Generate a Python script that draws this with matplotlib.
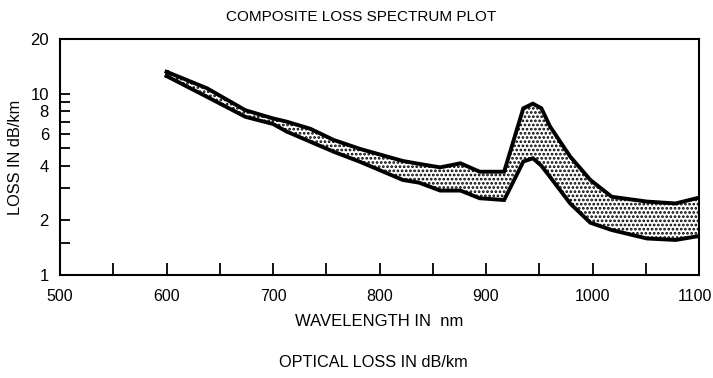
import matplotlib

matplotlib.use("Agg")
import matplotlib.pyplot as plt
from matplotlib.ticker import FixedLocator, NullFormatter
from matplotlib.transforms import ScaledTranslation


# =========================
# Data
# =========================
WAVELENGTH_NM = [600, 638, 674, 700, 713, 735, 757, 782, 822, 837, 857, 876,
                 894, 917, 935, 944, 952, 960, 979, 998, 1018, 1051, 1078, 1100]
LOSS_UPPER = [13.2, 10.7, 8.1, 7.3, 7.0, 6.4, 5.55, 4.95, 4.25, 4.1, 3.92, 4.13,
              3.71, 3.71, 8.3, 8.8, 8.3, 6.6, 4.5, 3.34, 2.7, 2.54, 2.48, 2.67]
LOSS_LOWER = [12.5, 9.6, 7.45, 6.8, 6.17, 5.43, 4.78, 4.2, 3.34, 3.23, 2.92, 2.92,
              2.65, 2.59, 4.22, 4.4, 4.0, 3.48, 2.48, 1.94, 1.77, 1.59, 1.56, 1.64]

X_TICKS = [500, 600, 700, 800, 900, 1000, 1100]
X_MINOR = [550, 650, 750, 850, 950, 1050]
Y_TICKS = [1, 2, 4, 6, 8, 10, 20]
Y_MINOR = [1.5, 3, 5, 7, 9]

TITLE = "COMPOSITE LOSS SPECTRUM PLOT"
X_LABEL = "WAVELENGTH IN  nm"
Y_LABEL = "LOSS IN dB/km"
FOOTER = "OPTICAL LOSS IN dB/km"

plt.rcParams["font.family"] = ["Liberation Sans", "DejaVu Sans"]
plt.rcParams["hatch.linewidth"] = 1.3
plt.rcParams["hatch.color"] = "black"


def main() -> None:
    fig = plt.figure(figsize=(7.13, 3.78), dpi=100)
    ax = fig.add_axes([0.0842, 0.2725, 0.8962, 0.6243])

    ax.fill_between(WAVELENGTH_NM, LOSS_LOWER, LOSS_UPPER,
                    facecolor="white", edgecolor="black", linewidth=0,
                    hatch="....")
    ax.plot(WAVELENGTH_NM, LOSS_UPPER, color="black", lw=2.8, solid_joinstyle="miter")
    ax.plot(WAVELENGTH_NM, LOSS_LOWER, color="black", lw=2.8, solid_joinstyle="miter")
    ax.plot([WAVELENGTH_NM[0], WAVELENGTH_NM[0]], [LOSS_LOWER[0], LOSS_UPPER[0]],
            color="black", lw=2.8)

    ax.set_yscale("log")
    ax.set_xlim(500, 1100)
    ax.set_ylim(1, 20)

    ax.xaxis.set_major_locator(FixedLocator(X_TICKS))
    ax.xaxis.set_minor_locator(FixedLocator(X_MINOR))
    ax.set_xticklabels([str(v) for v in X_TICKS])
    ax.yaxis.set_major_locator(FixedLocator(Y_TICKS))
    ax.yaxis.set_minor_locator(FixedLocator(Y_MINOR))
    ax.set_yticklabels([str(v) for v in Y_TICKS])
    ax.yaxis.set_minor_formatter(NullFormatter())

    ax.tick_params(axis="x", which="both", direction="in", length=9, width=1.3,
                   labelsize=11.5, pad=10)
    ax.tick_params(axis="y", which="both", direction="in", length=7, width=1.3,
                   labelsize=12, pad=8)

    # last x label sits a little left so it stays inside the figure
    last = ax.get_xticklabels()[-1]
    last.set_transform(last.get_transform()
                       + ScaledTranslation(-4 / 100, 0, fig.dpi_scale_trans))

    for spine in ax.spines.values():
        spine.set_linewidth(1.5)

    ax.set_xlabel(X_LABEL, fontsize=12, labelpad=7)
    ax.set_ylabel(Y_LABEL, fontsize=11.8, labelpad=5)

    fig.text(0.506, 0.955, TITLE, ha="center", va="center", fontsize=11)
    fig.text(0.523, 0.021, FOOTER, ha="center", va="bottom", fontsize=11.7)

    fig.savefig("out.png", dpi=100)
    plt.close(fig)


if __name__ == "__main__":
    main()
